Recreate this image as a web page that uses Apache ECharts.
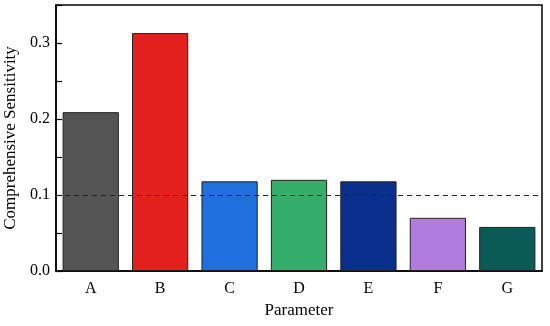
<!DOCTYPE html>
<html><head><meta charset="utf-8">
<script src="https://cdn.jsdelivr.net/npm/echarts@6/dist/echarts.min.js"></script>
<style>html,body{margin:0;padding:0;background:#fff}#c{width:550px;height:326px}</style>
</head><body><div id="c"></div>
<script>
const categories = ['A','B','C','D','E','F','G'];
const values = [0.209, 0.313, 0.118, 0.120, 0.118, 0.070, 0.058];
const colors = ['#555555','#e3201b','#1f6fde','#35ad6b','#0a2f8c','#b07ce0','#0a5a55'];
const yTicks = [0.0, 0.1, 0.2, 0.3];
const threshold = 0.1;

const font = 'Liberation Serif';
const chart = echarts.init(document.getElementById('c'));
chart.setOption({
  animation: false,
  grid: {left: 56, right: 8, top: 5, bottom: 55, containLabel: false, outerBoundsMode: 'none',
    show: true, borderColor: '#000', borderWidth: 1.5, backgroundColor: 'transparent'},
  xAxis: {
    type: 'category', data: categories,
    name: 'Parameter', nameLocation: 'middle', nameGap: 28,
    nameTextStyle: {fontFamily: font, fontSize: 17, color: '#000'},
    axisLine: {lineStyle: {color: '#000', width: 1.5}},
    axisTick: {show: false},
    axisLabel: {fontFamily: font, fontSize: 16, color: '#000', margin: 10}
  },
  yAxis: {
    type: 'value', min: 0, max: 0.35, interval: 0.05,
    name: 'Comprehensive Sensitivity', nameLocation: 'middle', nameGap: 36,
    nameTextStyle: {fontFamily: font, fontSize: 17, color: '#000'},
    axisLine: {show: true, lineStyle: {color: '#000', width: 1.5}},
    axisTick: {show: true, inside: true, length: 6, lineStyle: {color: '#000', width: 1.2}},
    splitLine: {show: false},
    axisLabel: {fontFamily: font, fontSize: 16, color: '#000', margin: 6,
      formatter: v => {
        const hit = yTicks.find(t => Math.abs(t - v) < 1e-9);
        return hit !== undefined ? hit.toFixed(1) : '';
      }}
  },
  series: [{
    type: 'bar',
    data: values.map((v, i) => ({value: v, itemStyle: {color: colors[i]}})),
    barCategoryGap: '19%',
    itemStyle: {borderColor: '#222', borderWidth: 1},
    markLine: {
      silent: true, symbol: 'none',
      label: {show: false},
      lineStyle: {type: [5, 4], color: '#222', width: 1},
      data: [{yAxis: threshold}]
    }
  }]
});
</script></body></html>
